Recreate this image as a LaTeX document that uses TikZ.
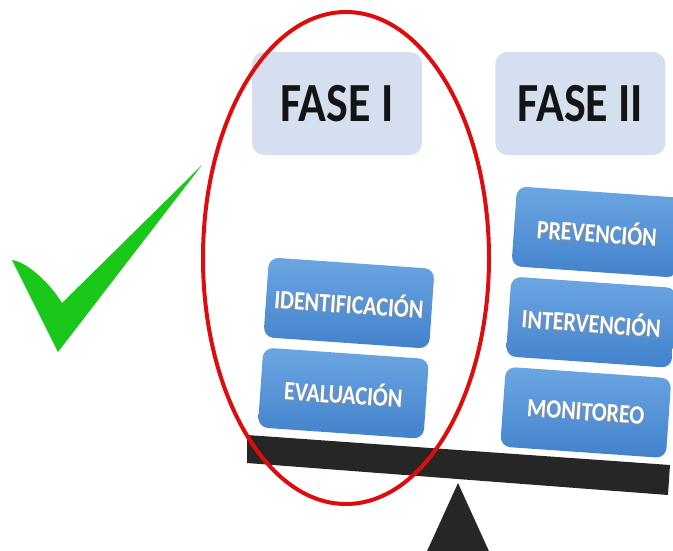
\documentclass[tikz,border=0pt]{standalone}
\usepackage{fontspec}
\setmainfont{Carlito}
\usepackage{tikz}
\usepackage{graphicx}
\usetikzlibrary{positioning}

\definecolor{faseblue}{RGB}{213,223,239}
\definecolor{boxtop}{RGB}{108,166,226}
\definecolor{boxbot}{RGB}{66,130,204}
\definecolor{checkgreen}{RGB}{25,200,25}
\definecolor{ringred}{RGB}{222,12,12}
\definecolor{beam}{RGB}{38,38,38}

\newcommand{\tall}[1]{\scalebox{1}[1.2]{#1}}
\newcommand{\shadowed}[1]{\rlap{\hspace{0.9pt}\raisebox{-0.9pt}{\color{black!45}#1}}#1}

\tikzset{
	fase/.style={fill=faseblue, rounded corners=12pt, minimum width=170pt, minimum height=103pt,
		font=\fontsize{46}{46}\selectfont\bfseries, text=black!92},
	etapa/.style={top color=boxtop, bottom color=boxbot, rounded corners=10pt, minimum width=166pt,
		minimum height=80pt, rotate=-4, text=white, font=\fontsize{22}{22}\selectfont\bfseries},
}

\begin{document}
\begin{tikzpicture}[x=1pt, y=-1pt, node distance=10pt]
	\useasboundingbox (0,0) rectangle (673,550);
	\clip (0,0) rectangle (673,550);
	
	% headers
	\node[fase] (f1) at (337,103.5) {\tall{FASE I}};
	\node[fase, right=73pt of f1] (f2) {\tall{FASE II}};
	
	% stages
	\node[etapa] (a1) at (349,303) {\tall{\shadowed{IDENTIFICACIÓN}}};
	\node[etapa, below=of a1] (a2) {\tall{\shadowed{EVALUACIÓN}}};
	\node[etapa] (b1) at (597,232) {\tall{\shadowed{PREVENCIÓN}}};
	\node[etapa, below=of b1] (b2) {\tall{\shadowed{INTERVENCIÓN}}};
	\node[etapa, below=of b2] (b3) {\tall{\shadowed{MONITOREO}}};
	
	% balance
	\fill[beam] (247,435) -- (670,465) -- (668,495) -- (247,463) -- cycle;
	\fill[beam] (458,483) -- (493,560) -- (423,560) -- cycle;
	
	% check mark
	\fill[checkgreen] (12,260) .. controls (27,262) and (50,283) .. (62,303) -- (202,165) -- (58,352) -- cycle;
	
	% ring round phase one
	\draw[ringred, line width=4pt] (346,258) ellipse [x radius=143, y radius=246];
\end{tikzpicture}
\end{document}
